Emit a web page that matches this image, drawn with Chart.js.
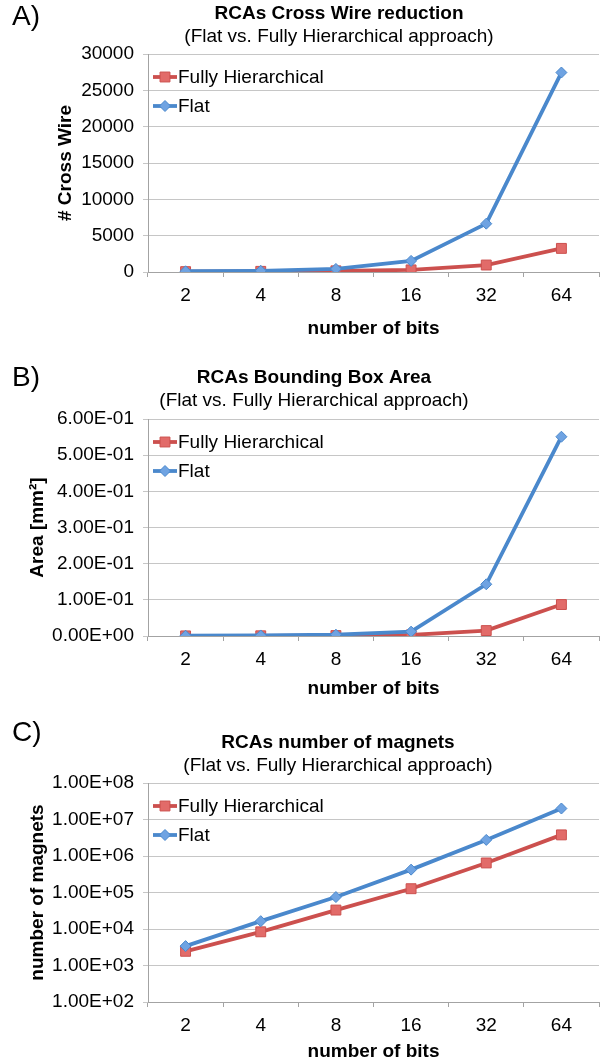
<!DOCTYPE html>
<html>
<head>
<meta charset="utf-8">
<script src="https://cdn.jsdelivr.net/npm/chart.js@4.4.1/dist/chart.umd.min.js"></script>
<style>
  html, body { margin: 0; padding: 0; background: #fff; }
  canvas { position: absolute; left: 0; }
</style>
</head>
<body>
<canvas id="chartA" width="613" height="340" style="top:0"></canvas>
<canvas id="chartB" width="613" height="360" style="top:340px"></canvas>
<canvas id="chartC" width="613" height="363" style="top:700px"></canvas>
<script>
// values
const bits = ['2', '4', '8', '16', '32', '64'];
const hierWires = [50, 90, 160, 290, 960, 3250];
const flatWires = [100, 160, 420, 1530, 6650, 27450];
const hierArea = [0.0003, 0.0006, 0.0012, 0.003, 0.015, 0.087];
const flatArea = [0.0008, 0.0015, 0.0035, 0.012, 0.143, 0.551];
const hierMagnets = [2450, 8380, 33000, 127000, 645000, 3790000];
const flatMagnets = [3400, 16400, 75000, 423000, 2760000, 20000000];
const magnetTicks = [1e2, 1e3, 1e4, 1e5, 1e6, 1e7, 1e8];

const FONT = '"Liberation Sans", Arial, Helvetica, sans-serif';
const GRID = '#c6c6c6';
const AXIS = '#a3a3a3';
const RED = '#cc504e', RED_FILL = '#e26b69';
const BLUE = '#4a88cc', BLUE_FILL = '#6fa3e2';

Chart.defaults.font.family = FONT;
Chart.defaults.font.size = 19;
Chart.defaults.color = '#000';

function sci(v) {
  if (Math.abs(v) < 1e-12) return '0.00E+00';
  const e = Math.floor(Math.log10(v) + 1e-9);
  const m = v / Math.pow(10, e);
  return m.toFixed(2) + 'E' + (e < 0 ? '-' : '+') + String(Math.abs(e)).padStart(2, '0');
}

// panel letter, two-line title and the in-plot legend
const panelText = {
  id: 'panelText',
  afterDraw(chart, args, opts) {
    const ctx = chart.ctx;
    const area = chart.chartArea;
    ctx.save();
    ctx.fillStyle = '#000';
    ctx.textBaseline = 'middle';
    ctx.textAlign = 'left';
    ctx.font = '28px ' + FONT;
    ctx.fillText(opts.letter, 12, opts.letterY);
    ctx.textAlign = 'center';
    ctx.font = 'bold 19px ' + FONT;
    ctx.fillText(opts.title, opts.titleX, opts.titleY);
    ctx.font = '19px ' + FONT;
    ctx.fillText(opts.subtitle, opts.titleX, opts.titleY + 22.5);

    chart.data.datasets.forEach((ds, i) => {
      const y = area.top + 23 + i * 29;
      const x0 = area.left + 5;
      ctx.strokeStyle = ds.borderColor;
      ctx.lineWidth = ds.borderWidth;
      ctx.beginPath();
      ctx.moveTo(x0, y);
      ctx.lineTo(x0 + 24, y);
      ctx.stroke();
      ctx.fillStyle = ds.pointBackgroundColor;
      ctx.strokeStyle = ds.pointBorderColor;
      ctx.lineWidth = 1;
      Chart.helpers.drawPoint(ctx, { pointStyle: ds.pointStyle, radius: ds.pointRadius, borderWidth: 1, rotation: 0 }, x0 + 12, y);
      ctx.fillStyle = '#000';
      ctx.textAlign = 'left';
      ctx.font = '19px ' + FONT;
      ctx.fillText(ds.label, area.left + 30, y + 1);
    });
    ctx.restore();
  }
};

function series(hier, flat) {
  return [{
    label: 'Fully Hierarchical',
    data: hier,
    order: 1,
    borderColor: RED,
    borderWidth: 3.8,
    pointStyle: 'rect',
    pointRadius: 7,
    pointBackgroundColor: RED_FILL,
    pointBorderColor: RED,
    pointBorderWidth: 1,
    tension: 0
  }, {
    label: 'Flat',
    data: flat,
    order: 0,
    borderColor: BLUE,
    borderWidth: 3.8,
    pointStyle: 'rectRot',
    pointRadius: 5.5,
    pointBackgroundColor: BLUE_FILL,
    pointBorderColor: BLUE,
    pointBorderWidth: 1,
    tension: 0
  }];
}

function makeChart(id, cfg) {
  const H = document.getElementById(id).height;
  return new Chart(document.getElementById(id), {
    type: 'line',
    data: { labels: bits, datasets: series(cfg.hier, cfg.flat) },
    plugins: [panelText],
    options: {
      responsive: false,
      animation: false,
      layout: { autoPadding: false, padding: { top: cfg.top, left: 0, right: 14, bottom: 0 } },
      plugins: {
        legend: { display: false },
        tooltip: { enabled: false },
        panelText: cfg.text
      },
      scales: {
        x: {
          offset: true,
          grid: { offset: true, drawOnChartArea: false, tickLength: 5, tickColor: AXIS },
          border: { color: AXIS, width: 1 },
          ticks: { padding: 7, color: '#000' },
          title: {
            display: true, text: 'number of bits', color: '#000',
            font: { size: 19, weight: 'bold' },
            padding: { top: cfg.xTitlePad, bottom: 0 }
          },
          afterFit(s) { s.height = H - cfg.bottom; }
        },
        y: Object.assign({
          grid: { color: GRID, tickLength: 5, tickColor: GRID },
          border: { color: AXIS, width: 1 },
          title: {
            display: true, text: cfg.yTitle, color: '#000',
            font: { size: 19, weight: 'bold' },
            padding: { top: cfg.yTitlePad, bottom: 0 }
          },
          afterFit(s) { s.width = 148; }
        }, cfg.y)
      }
    }
  });
}

makeChart('chartA', {
  hier: hierWires, flat: flatWires,
  top: 54, bottom: 272, xTitlePad: 5.6, yTitle: '# Cross Wire', yTitlePad: 54.6,
  text: { letter: 'A)', letterY: 17, title: 'RCAs Cross Wire reduction', subtitle: '(Flat vs. Fully Hierarchical approach)', titleX: 339, titleY: 14 },
  y: { min: 0, max: 30000, ticks: { stepSize: 5000, padding: 9, color: '#000', callback: v => String(v) } }
});

makeChart('chartB', {
  hier: hierArea, flat: flatArea,
  top: 79, bottom: 296, xTitlePad: 1.3, yTitle: 'Area [mm²]', yTitlePad: 26,
  text: { letter: 'B)', letterY: 38, title: 'RCAs Bounding Box Area', subtitle: '(Flat vs. Fully Hierarchical approach)', titleX: 314, titleY: 38 },
  y: { min: 0, max: 0.6, ticks: { stepSize: 0.1, padding: 9, color: '#000', callback: v => sci(v) } }
});

makeChart('chartC', {
  hier: hierMagnets, flat: flatMagnets,
  top: 83, bottom: 302, xTitlePad: 0.9, yTitle: 'number of magnets', yTitlePad: 26,
  text: { letter: 'C)', letterY: 33, title: 'RCAs number of magnets', subtitle: '(Flat vs. Fully Hierarchical approach)', titleX: 338, titleY: 43 },
  y: {
    type: 'logarithmic', min: 1e2, max: 1e8,
    afterBuildTicks(s) { s.ticks = magnetTicks.map(v => ({ value: v })); },
    ticks: { padding: 9, color: '#000', callback: v => sci(v) }
  }
});
</script>
</body>
</html>
